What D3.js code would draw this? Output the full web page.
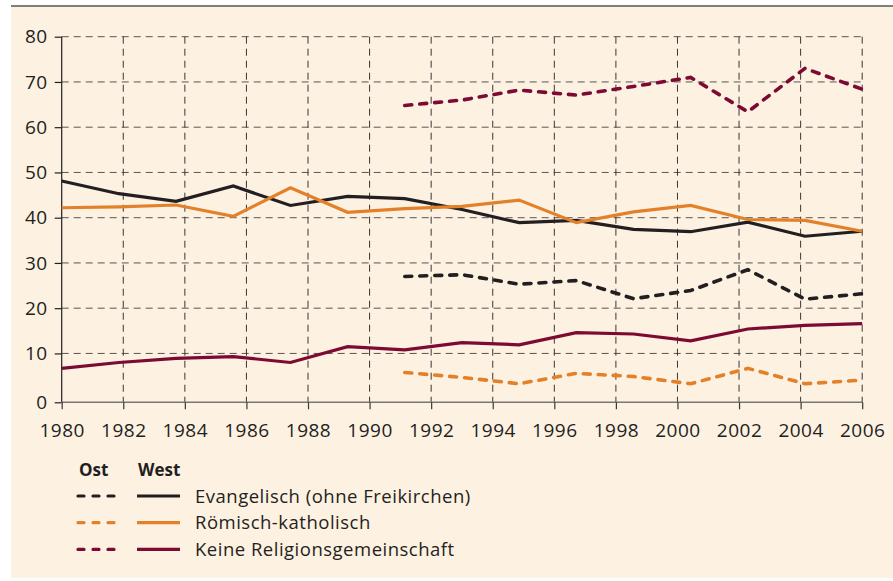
<!DOCTYPE html>
<html>
<head>
<meta charset="utf-8">
<script src="https://cdn.jsdelivr.net/npm/d3@7"></script>
<style>
  body { margin: 0; background: #fff; }
  svg { display: block; font-family: "Open Sans", sans-serif; }
</style>
</head>
<body>
<svg id="chart" width="893" height="581"></svg>
<script>
// survey waves (plotted evenly spaced across the year axis)
const waves = ["1980", "1982", "1984", "1986", "1988", "1990", "1991", "1992",
  "1994", "1996", "1998", "2000", "2002", "2004", "2006"];
const yearTicks = [1980, 1982, 1984, 1986, 1988, 1990, 1992, 1994, 1996, 1998, 2000, 2002, 2004, 2006];
const valueTicks = [0, 10, 20, 30, 40, 50, 60, 70, 80];

// West (all waves)
const westEvang = [48.1, 45.3, 43.6, 47.0, 42.7, 44.7, 44.2, 41.8, 38.9, 39.4, 37.4, 36.9, 39.0, 35.9, 37.0];
const westKath = [42.2, 42.4, 42.8, 40.3, 46.6, 41.2, 42.0, 42.5, 43.9, 38.9, 41.3, 42.7, 39.6, 39.4, 37.0];
const westKeine = [6.7, 8.0, 8.9, 9.3, 8.0, 11.5, 10.8, 12.4, 11.9, 14.6, 14.3, 12.8, 15.4, 16.2, 16.6];
// Ost (from 1991)
const ostWaves = waves.slice(6);
const ostEvang = [27.0, 27.4, 25.3, 26.1, 22.1, 23.9, 28.5, 22.0, 23.2];
const ostKath = [5.8, 4.7, 3.3, 5.6, 4.9, 3.3, 6.7, 3.3, 4.1];
const ostKeine = [64.8, 66.0, 68.2, 67.1, 69.0, 71.0, 63.4, 73.0, 68.4];

const labels = ["Evangelisch (ohne Freikirchen)", "Römisch-katholisch", "Keine Religionsgemeinschaft"];
const colors = ["#231f20", "#e3812b", "#7d0a33"];

const svg = d3.select("#chart");

// background panel
svg.append("rect").attr("x", 11).attr("y", 6).attr("width", 882).attr("height", 572).attr("fill", "#fdf1e2");
svg.append("line").attr("x1", 11).attr("x2", 893).attr("y1", 6).attr("y2", 6)
  .attr("stroke", "#555").attr("stroke-width", 1.5);

const plotL = 61.7, plotR = 862.2, plotT = 36.7, plotB = 402.3;

const x = d3.scaleLinear().domain([1980, 2006]).range([plotL, plotR]);
const xw = d3.scalePoint().domain(waves).range([plotL, plotR]);
// the zero line sits a little below the regular grid
const yMin = -0.8;
const y = d3.scaleLinear().domain([yMin, 80]).range([plotB, plotT]);
const yPos = v => v === 0 ? y(yMin) : y(v);

const grid = svg.append("g");
grid.selectAll(".hg")
  .data(valueTicks.filter(v => v > 0))
  .enter().append("line")
  .attr("x1", plotL).attr("x2", plotR)
  .attr("y1", d => y(d)).attr("y2", d => y(d))
  .attr("stroke", "#5a5552").attr("stroke-width", 1).attr("stroke-dasharray", "7,5");
grid.selectAll(".vg")
  .data(yearTicks.slice(1))
  .enter().append("line")
  .attr("x1", d => x(d)).attr("x2", d => x(d))
  .attr("y1", plotT).attr("y2", plotB)
  .attr("stroke", "#3a3635").attr("stroke-width", 1).attr("stroke-dasharray", "7,5");

// axes
const yAxis = svg.append("g")
  .attr("transform", `translate(${plotL},0)`)
  .call(d3.axisLeft(d3.scaleIdentity()).tickValues(valueTicks.map(yPos))
    .tickFormat((d, i) => valueTicks[i]).tickSize(7).tickPadding(7));
yAxis.select(".domain").remove();
yAxis.append("line").attr("x1", 0).attr("x2", 0).attr("y1", plotT).attr("y2", plotB)
  .attr("stroke", "#231f20").attr("stroke-width", 1.2);

const xAxis = svg.append("g")
  .attr("transform", `translate(0,${plotB})`)
  .call(d3.axisBottom(x).tickValues(yearTicks).tickFormat(d3.format("d")).tickSize(7).tickPadding(14));
xAxis.select(".domain").attr("d", `M${plotL},0H${plotR}`).attr("stroke", "#7a7674").attr("stroke-width", 1.6);
xAxis.selectAll(".tick line").attr("stroke", "#3a3635").attr("stroke-width", 1.2);
yAxis.selectAll(".tick line").attr("stroke", "#231f20").attr("stroke-width", 1.2);

svg.selectAll(".tick text").attr("font-size", 19).attr("fill", "#231f20")
  .attr("letter-spacing", 0.5)
  .attr("font-family", "'Open Sans', sans-serif");

// lines
const line = d3.line().x(d => xw(d[0])).y(d => y(d[1])).curve(d3.curveLinear);

const westSeries = [westEvang, westKath, westKeine];
const ostSeries = [ostEvang, ostKath, ostKeine];

ostSeries.forEach((vals, i) => {
  svg.append("path")
    .datum(ostWaves.map((w, j) => [w, vals[j]]))
    .attr("d", line)
    .attr("fill", "none").attr("stroke", colors[i]).attr("stroke-width", 3.6)
    .attr("stroke-dasharray", "7,8").attr("stroke-linecap", "round");
});
westSeries.forEach((vals, i) => {
  svg.append("path")
    .datum(waves.map((w, j) => [w, vals[j]]))
    .attr("d", line)
    .attr("fill", "none").attr("stroke", colors[i]).attr("stroke-width", 3.2)
    .attr("stroke-linejoin", "miter");
});

// legend
const lg = svg.append("g");
lg.append("text").text("Ost").attr("x", 79).attr("y", 476)
  .attr("font-size", 17).attr("font-weight", "bold").attr("fill", "#231f20");
lg.append("text").text("West").attr("x", 138).attr("y", 476)
  .attr("font-size", 17).attr("font-weight", "bold").attr("fill", "#231f20");

labels.forEach((lab, i) => {
  const ly = 496 + i * 26.7;
  lg.append("line").attr("x1", 78).attr("x2", 116).attr("y1", ly).attr("y2", ly)
    .attr("stroke", colors[i]).attr("stroke-width", 3.2)
    .attr("stroke-dasharray", "6,9").attr("stroke-linecap", "round");
  lg.append("line").attr("x1", 137).attr("x2", 180).attr("y1", ly).attr("y2", ly)
    .attr("stroke", colors[i]).attr("stroke-width", 3.2);
  lg.append("text").text(lab).attr("x", 195).attr("y", ly + 6.5)
    .attr("font-size", 18.5).attr("letter-spacing", 0.5).attr("fill", "#231f20");
});
</script>
</body>
</html>
